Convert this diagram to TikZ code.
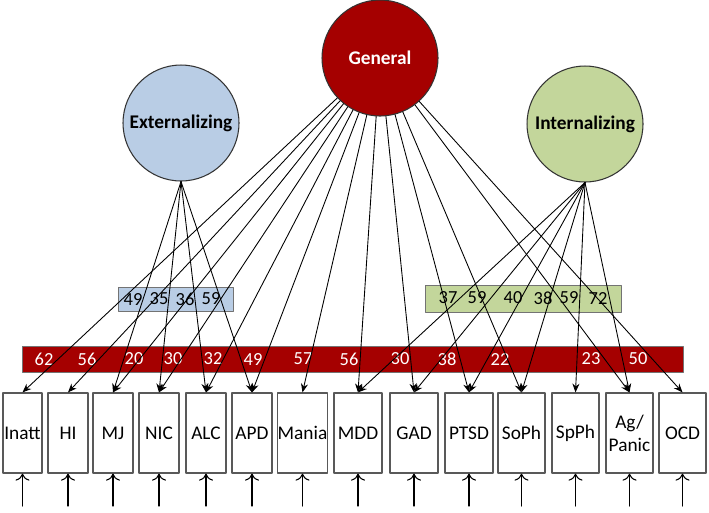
\documentclass[tikz,border=0pt]{standalone}
\usepackage{fontspec}
\setmainfont{Carlito}
\usetikzlibrary{arrows.meta}
\definecolor{genred}{RGB}{165,0,0}
\definecolor{extblue}{RGB}{185,205,229}
\definecolor{intgreen}{RGB}{195,214,155}
\tikzset{
	factor/.style={circle,draw=black!80,line width=0.6pt,minimum size=2.32cm,inner sep=0pt,font=\fontsize{11}{13}\selectfont\bfseries},
	var/.style={draw=black!65,line width=0.7pt,minimum height=1.6cm,inner sep=0pt,align=center,font=\fontsize{11}{13}\selectfont},
	load/.style={line width=0.5pt,-{Stealth[length=5pt,width=4pt]}},
	err/.style={line width=0.6pt,-{To[length=4pt,width=8pt]}},
	num/.style={inner sep=0pt,font=\fontsize{10.5}{12}\selectfont}
}
\begin{document}
\begin{tikzpicture}[x=0.02cm,y=-0.02cm,line join=round,line cap=round]
	\useasboundingbox (0,0) rectangle (709,512);
	\node[factor,fill=genred,text=white] (gen) at (380,58) {General};
	\node[factor,fill=extblue] (ext) at (181,123) {Externalizing};
	\node[factor,fill=intgreen] (int) at (585,124) {Internalizing};
	\draw[draw=black!55,fill=extblue] (118,287) rectangle (233,311);
	\draw[draw=black!55,fill=intgreen] (425,285) rectangle (621,312);
	\draw[draw=black!55,fill=genred] (22,346) rectangle (683,372);
	\foreach \x/\v [count=\i] in {133/49,159/35,185/36,211/59}
		\node[num] (ex\i) at (\x,299) {\v};
	\foreach \x/\v [count=\i] in {448/37,477/59,513/40,543/38,569/59,598/72}
		\node[num] (in\i) at (\x,298) {\v};
	\foreach \x/\v [count=\i] in {44/62,87/56,134/20,173/30,213/32,253/49,303/57,349/56,400/30,447/38,500/22,591/23,638/50}
		\node[num,text=white] (ge\i) at (\x,359) {\v};
	\foreach \n/\x/\w/\t in {inatt/22.5/39/Inatt,hi/68/40/HI,mj/113/40/MJ,nic/159/40/NIC,alc/206/40/ALC,apd/252/40/APD,mania/302.5/47/Mania,mdd/358/48/MDD,gad/414/48/GAD,ptsd/469/48/PTSD,soph/521.5/47/SoPh,spph/575.5/47/SpPh,agp/629.5/47/{Ag/\\Panic},ocd/682.5/47/OCD}{
		\node[var,minimum width=\w*0.02cm] (\n) at (\x,433) {\t};
		\coordinate (e\n) at (\x,506);
		\draw[err] (e\n) -- (\n);
	};
	\foreach \n in {inatt,hi,mj,nic,alc,apd,mania,mdd,gad,ptsd,soph,agp,ocd}
		\draw[load] (gen) -- (\n.north);
	\foreach \n in {mj,nic,alc,apd}
		\draw[load] (ext.south) -- (\n.north);
	\foreach \n in {mdd,gad,ptsd,soph,spph,agp}
		\draw[load] (int.south) -- (\n.north);
\end{tikzpicture}
\end{document}
